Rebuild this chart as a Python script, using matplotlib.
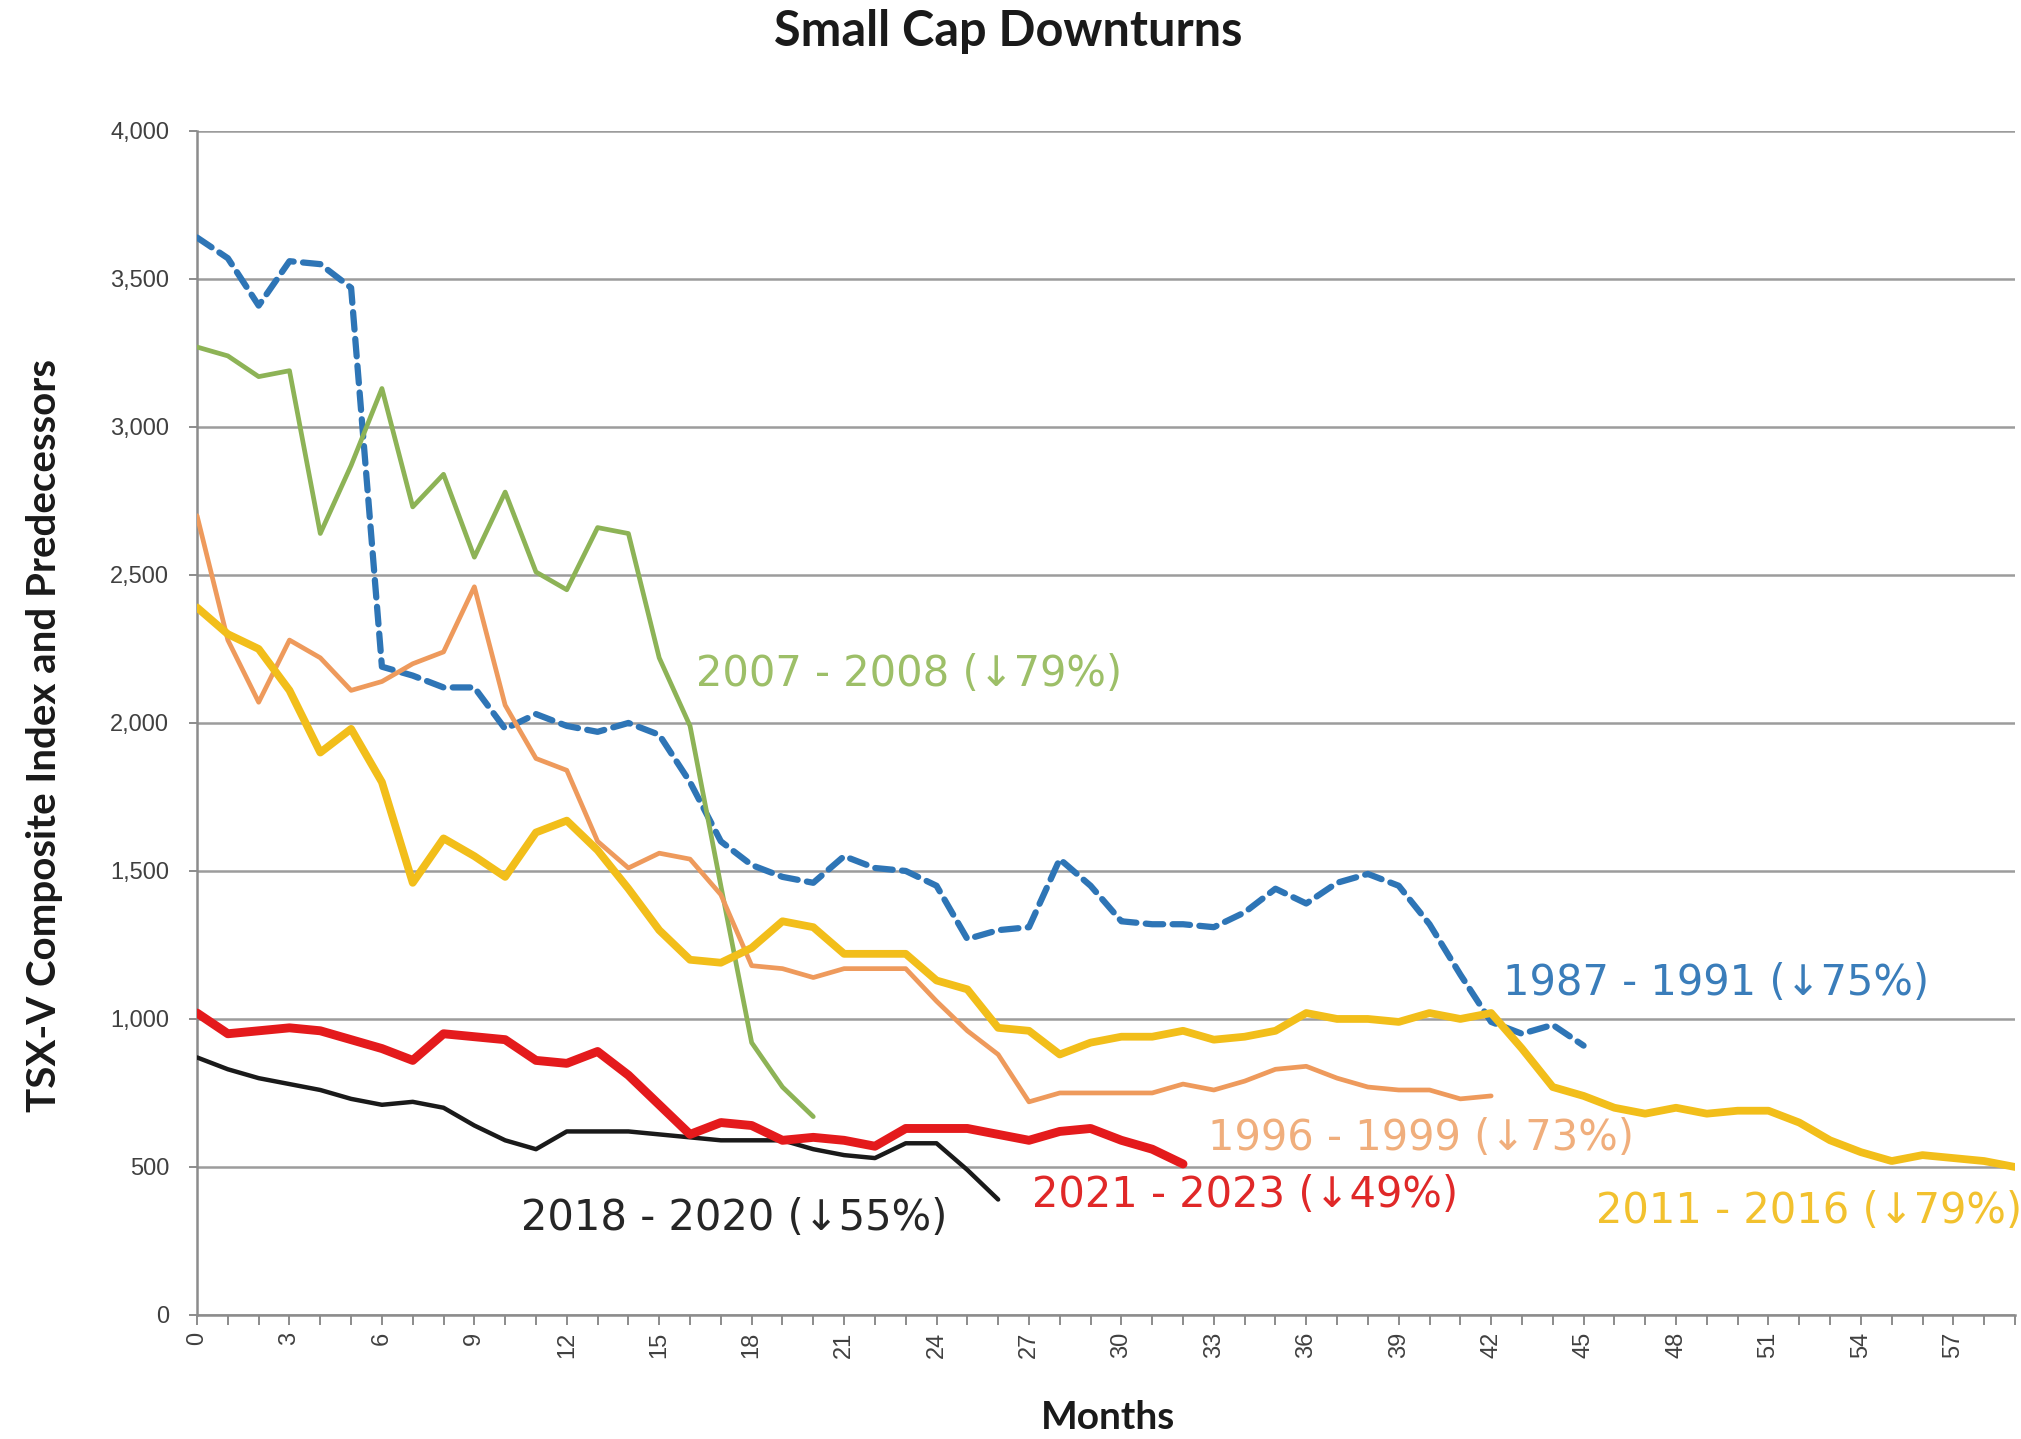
import matplotlib.pyplot as plt
from matplotlib.ticker import FuncFormatter, MultipleLocator

# monthly index levels
y1987 = [3640, 3570, 3410, 3560, 3550, 3470, 2190, 2160, 2120, 2120,
         1980, 2030, 1990, 1970, 2000, 1960, 1800, 1600, 1520, 1480,
         1460, 1550, 1510, 1500, 1450, 1270, 1300, 1310, 1540, 1450,
         1330, 1320, 1320, 1310, 1360, 1440, 1390, 1460, 1490, 1450,
         1320, 1150, 990, 950, 980, 910]
y2007 = [3270, 3240, 3170, 3190, 2640, 2870, 3130, 2730, 2840, 2560,
         2780, 2510, 2450, 2660, 2640, 2220, 1990, 1450, 920, 770, 670]
y1996 = [2700, 2280, 2070, 2280, 2220, 2110, 2140, 2200, 2240, 2460,
         2060, 1880, 1840, 1600, 1510, 1560, 1540, 1420, 1180, 1170,
         1140, 1170, 1170, 1170, 1060, 960, 880, 720, 750, 750,
         750, 750, 780, 760, 790, 830, 840, 800, 770, 760,
         760, 730, 740]
y2011 = [2390, 2300, 2250, 2110, 1900, 1980, 1800, 1460, 1610, 1550,
         1480, 1630, 1670, 1570, 1440, 1300, 1200, 1190, 1240, 1330,
         1310, 1220, 1220, 1220, 1130, 1100, 970, 960, 880, 920,
         940, 940, 960, 930, 940, 960, 1020, 1000, 1000, 990,
         1020, 1000, 1020, 900, 770, 740, 700, 680, 700, 680,
         690, 690, 650, 590, 550, 520, 540, 530, 520, 500]
y2018 = [870, 830, 800, 780, 760, 730, 710, 720, 700, 640,
         590, 560, 620, 620, 620, 610, 600, 590, 590, 590,
         560, 540, 530, 580, 580, 490, 390]
y2021 = [1020, 950, 960, 970, 960, 930, 900, 860, 950, 940,
         930, 860, 850, 890, 810, 710, 610, 650, 640, 590,
         600, 590, 570, 630, 630, 630, 610, 590, 620, 630,
         590, 560, 510]

labels = ['1987 - 1991 (\u219375%)', '2007 - 2008 (\u219379%)',
          '1996 - 1999 (\u219373%)', '2011 - 2016 (\u219379%)',
          '2018 - 2020 (\u219355%)', '2021 - 2023 (\u219349%)']
# where each label sits (month, index level)
label_pos = [(42.4, 1120), (16.2, 2165), (32.8, 597), (45.4, 350),
             (10.5, 327), (27.1, 405)]

fig = plt.figure(figsize=(20.21, 14.39), dpi=100)
ax = fig.add_axes([0.0975, 0.0862, 0.8995, 0.8228])

series = [y1987, y2007, y1996, y2011, y2018, y2021]
colors = ['#2E75B6', '#8DB356', '#EE9A5C', '#F2BE1A', '#1A1A1A', '#E41A1C']
text_colors = ['#3A7DBA', '#9DBF68', '#F0AE7C', '#F2C12E', '#262626', '#E02828']
widths = [4.5, 3.4, 3.4, 5.6, 3.2, 6.4]

for i, ys in enumerate(series):
    kw = dict(color=colors[i], lw=widths[i], solid_joinstyle='round',
              solid_capstyle='round', zorder=3 + i)
    if i == 0:
        kw['dashes'] = (2.8, 1.5)
        kw['dash_capstyle'] = 'round'
    ax.plot(range(len(ys)), ys, **kw)
    tx, ty = label_pos[i]
    ax.text(tx, ty, labels[i], color=text_colors[i], fontsize=30,
            family='DejaVu Sans', va='center', ha='left', zorder=10)

ax.set_xlim(0, 59)
ax.set_ylim(0, 4000)
ax.yaxis.set_major_locator(MultipleLocator(500))
ax.yaxis.set_major_formatter(FuncFormatter(lambda v, p: f'{int(v):,}'))
ax.xaxis.set_major_locator(MultipleLocator(3))
ax.xaxis.set_minor_locator(MultipleLocator(1))
ax.grid(axis='y', color='#9C9C9C', lw=1.8, zorder=1)

for s in ['top', 'right']:
    ax.spines[s].set_visible(False)
for s in ['left', 'bottom']:
    ax.spines[s].set_color('#8C8C8C')
    ax.spines[s].set_linewidth(1.8)

ax.tick_params(axis='y', length=6, width=1.4, color='#8C8C8C', pad=14,
               labelsize=17, labelcolor='#404040')
ax.tick_params(axis='x', which='both', length=7, width=1.4, color='#8C8C8C',
               pad=5, labelsize=17, labelcolor='#404040', labelrotation=90)
for t in ax.get_yticklabels() + ax.get_xticklabels():
    t.set_family(['Liberation Sans', 'DejaVu Sans'])

fig.text(0.499, 0.978, 'Small Cap Downturns', ha='center', va='center',
         fontsize=35, fontweight='bold', family=['Lato', 'DejaVu Sans'],
         color='#1a1a1a')
fig.text(0.022, 0.489, 'TSX-V Composite Index and Predecessors', ha='center',
         va='center', rotation=90, fontsize=29, fontweight='bold',
         family=['Lato', 'DejaVu Sans'], color='#1a1a1a')
fig.text(0.548, 0.0146, 'Months', ha='center', va='center', fontsize=28,
         fontweight='bold', family=['Lato', 'DejaVu Sans'], color='#1a1a1a')

fig.savefig('out.png', dpi=100)
